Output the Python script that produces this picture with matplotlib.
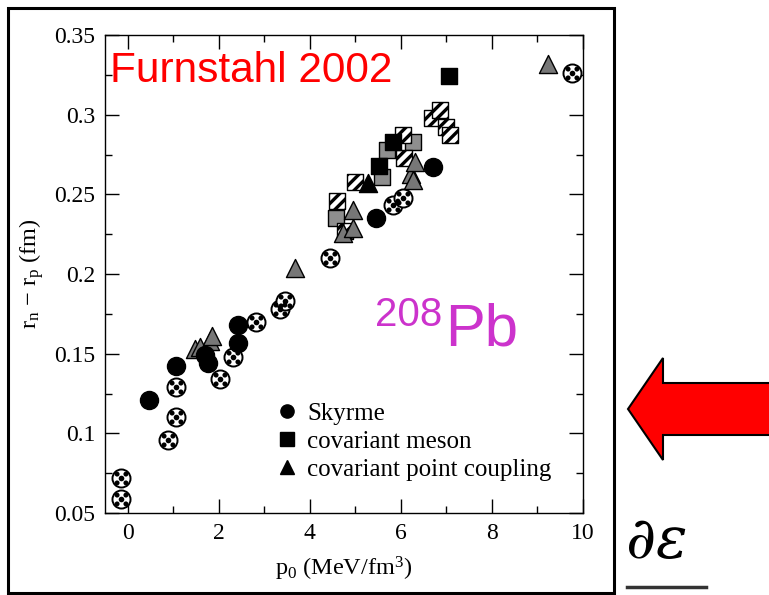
import matplotlib
matplotlib.use('Agg')
import matplotlib.pyplot as plt
import numpy as np
from matplotlib.path import Path
from matplotlib.lines import Line2D
from matplotlib.patches import Polygon, Rectangle

plt.rcParams['font.family'] = 'Liberation Serif'
plt.rcParams['mathtext.fontset'] = 'custom'
plt.rcParams['mathtext.rm'] = 'Liberation Serif'
plt.rcParams['mathtext.it'] = 'Liberation Serif:italic'
plt.rcParams['hatch.linewidth'] = 2.4

# neutron skin thickness vs. pressure derivative, 208Pb
skyrme_x = [0.47, 1.05, 1.69, 1.76, 2.42, 2.42, 5.45, 6.70]
skyrme_y = [0.121, 0.142, 0.149, 0.144, 0.168, 0.157, 0.235, 0.267]

skyrme_alt_x = [-0.15, -0.15, 0.88, 1.07, 1.07, 2.02, 2.31, 2.81, 3.34, 3.45, 4.45, 5.82, 6.04, 9.76]
skyrme_alt_y = [0.059, 0.072, 0.096, 0.110, 0.129, 0.134, 0.148, 0.170, 0.178, 0.183, 0.210, 0.243, 0.248, 0.326]

meson_x = [5.52, 5.82, 7.05]
meson_y = [0.268, 0.283, 0.324]
meson_gray_x = [4.57, 5.58, 5.70, 6.27]
meson_gray_y = [0.235, 0.261, 0.278, 0.283]
meson_striped_x = [4.60, 4.77, 5.00, 6.05, 6.07, 6.68, 6.86, 7.00, 7.08]
meson_striped_y = [0.246, 0.227, 0.258, 0.287, 0.273, 0.298, 0.303, 0.292, 0.287]

pc_x = [5.27]
pc_y = [0.257]
pc_gray_x = [1.47, 1.58, 1.80, 1.85, 3.67, 4.73, 4.95, 4.95, 6.22, 6.27, 6.30, 9.23]
pc_gray_y = [0.153, 0.154, 0.158, 0.161, 0.204, 0.226, 0.229, 0.240, 0.263, 0.259, 0.270, 0.332]

xticks = [0, 2, 4, 6, 8, 10]
yticks = [0.05, 0.1, 0.15, 0.2, 0.25, 0.3, 0.35]
ytick_labels = ['0.05', '0.1', '0.15', '0.2', '0.25', '0.3', '0.35']
legend_labels = ['Skyrme', 'covariant meson', 'covariant point coupling']

W, H = 769, 595
fig = plt.figure(figsize=(W / 100, H / 100), dpi=100)
ax = fig.add_axes([105 / W, 1 - 513 / H, (583 - 105) / W, (513 - 35) / H])

# soccer-ball dots inside the patterned circles
dots = Path.make_compound_path(
    Path.circle((0, 0), 0.32),
    Path.circle((0.5, 0.5), 0.28), Path.circle((-0.5, 0.5), 0.28),
    Path.circle((0.5, -0.5), 0.28), Path.circle((-0.5, -0.5), 0.28))

ms = 13
ax.plot(skyrme_alt_x, skyrme_alt_y, ls='none', marker='o', ms=ms, mfc='white', mec='black', mew=1.4, zorder=3)
ax.plot(skyrme_alt_x, skyrme_alt_y, ls='none', marker=dots, ms=ms * 0.76, mfc='black', mec='none', zorder=3)
ax.plot(skyrme_x, skyrme_y, ls='none', marker='o', ms=ms, color='black', zorder=4)

sq = 11.5 ** 2
ax.scatter(meson_gray_x, meson_gray_y, s=sq, marker='s', facecolor='#8e8e8e', edgecolor='black', linewidth=1, zorder=3)
ax.scatter(meson_striped_x, meson_striped_y, s=sq, marker='s', facecolor='white', edgecolor='black',
           linewidth=1, hatch='///', zorder=3)
ax.scatter(meson_x, meson_y, s=sq, marker='s', color='black', zorder=4)

tr = 13 ** 2
ax.scatter(pc_gray_x, pc_gray_y, s=tr, marker='^', facecolor='#777777', edgecolor='black', linewidth=1, zorder=3)
ax.scatter(pc_x, pc_y, s=tr, marker='^', color='black', zorder=4)

ax.set_xlim(-0.5, 10)
ax.set_ylim(0.05, 0.35)
ax.set_xticks(xticks)
ax.set_xticks([1, 3, 5, 7, 9], minor=True)
ax.set_yticks(yticks)
ax.set_yticklabels(ytick_labels)
ax.set_yticks(np.arange(0.075, 0.35, 0.05), minor=True)
ax.tick_params(which='both', direction='in', top=True, right=True, labelsize=17, width=1, pad=7)
ax.tick_params(which='major', length=10)
ax.tick_params(which='minor', length=5)
for s in ax.spines.values():
    s.set_linewidth(1)

ax.set_xlabel(r'p$_\mathrm{0}$ (MeV/fm$^\mathrm{3}$)', fontsize=17.5, labelpad=8)
ax.set_ylabel(r'r$_\mathrm{n}$ $-$ r$_\mathrm{p}$ (fm)', fontsize=17.5, labelpad=6)

handles = [Line2D([], [], ls='none', marker=m, color='black', ms=9.5) for m in ['o', 's', '^']]
fig.legend(handles, legend_labels, loc='upper left', bbox_to_anchor=(262 / W, 1 - 390 / H),
           frameon=False, fontsize=18, handlelength=1.0, handletextpad=0.3, labelspacing=0.22, borderpad=0)

fig.text(110 / W, 1 - 82 / H, 'Furnstahl 2002', color='red', fontsize=30.5, family='Liberation Sans', va='baseline')
fig.text(375 / W, 1 - 326 / H, '208', color='#cc33cc', fontsize=29, family='Liberation Sans', va='baseline')
fig.text(445 / W, 1 - 346 / H, 'Pb', color='#cc33cc', fontsize=43, family='Liberation Sans', va='baseline')

# outer frame
fig.add_artist(Rectangle((8 / W, 1 - 593 / H), (614 - 8) / W, (593 - 8) / H, transform=fig.transFigure,
                         fill=False, edgecolor='black', linewidth=2.2))

# red arrow pointing at the plot
arrow_px = [(628, 409), (663, 358), (663, 383), (780, 383), (780, 435), (663, 435), (663, 460)]
fig.add_artist(Polygon([(x / W, 1 - y / H) for x, y in arrow_px], closed=True, transform=fig.transFigure,
                       facecolor='#ff0000', edgecolor='black', linewidth=1.5))

fig.text(626 / W, 1 - 558 / H, '∂ε', fontsize=42, family='DejaVu Serif', style='italic', va='baseline')
fig.add_artist(Line2D([627 / W, 706 / W], [1 - 587 / H, 1 - 587 / H], transform=fig.transFigure,
                      color='#333333', linewidth=2.5))

fig.savefig('out.png', dpi=100)
